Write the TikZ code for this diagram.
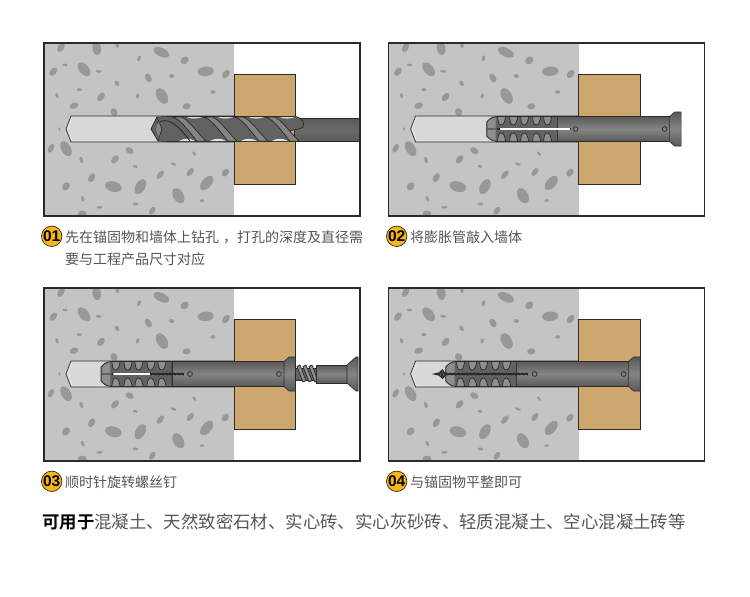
\documentclass[tikz,border=0pt]{standalone}
\usepackage{fontspec}
\setmainfont{Noto Sans CJK SC}[BoldFont={Noto Sans CJK SC Bold}]
\newfontfamily\badgefont{Liberation Sans}[BoldFont={Liberation Sans Bold}]
\definecolor{concrete}{HTML}{C4C4C4}
\definecolor{pebble}{HTML}{989898}
\definecolor{wood}{HTML}{CEA76E}
\definecolor{ink}{HTML}{2A2A2A}
\definecolor{holefill}{HTML}{D8D8D8}
\definecolor{badge}{HTML}{F8B612}
\definecolor{steelA}{HTML}{5A5A5A}
\definecolor{steelB}{HTML}{848484}
\definecolor{ribbed}{HTML}{626262}
\definecolor{ribin}{HTML}{8E8E8E}
\definecolor{txt}{HTML}{555555}
\tikzset{
  frame/.style={draw=ink,line width=1.5pt},
  steel/.style={top color=steelA,bottom color=steelA,middle color=steelB,draw=ink,line width=.6pt},
  caption/.style={inner sep=0pt,anchor=west,text=txt,font=\fontsize{14}{14}\selectfont},
  badgenode/.style={circle,fill=badge,draw=ink,line width=.7pt,minimum size=20pt,inner sep=0pt,
    font=\badgefont\bfseries\fontsize{15.5}{15.5}\selectfont,text=black}
}
\newcommand{\panelbase}{%
  \fill[white] (0,0) rectangle (316,173);
  \fill[concrete] (0,0) rectangle (190,173);
  \begin{scope}
    \clip (0,0) rectangle (190,173);
    \foreach \px/\py/\pl/\pw/\pa in {
      63/22/28/14/-60,170/25/36/20/80,232/17/12/8/80,364/37/46/20/25,297/55/16/8/-70,
      434/61/24/16/-40,75/75/14/6/0,132/88/44/22/50,40/95/26/14/-50,176/94/16/6/5,
      497/94/44/22/-5,558/102/26/14/-50,325/114/26/14/60,395/108/14/9/10,231/130/16/9/60,
      118/149/14/7/-5,51/167/14/7/70,183/171/26/14/-50,293/168/14/7/-70,366/168/46/24/60,
      519/156/14/8/-5,102/197/24/14/-20,440/199/22/14/-10,222/216/22/16/60,58/267/10/5/80,
      33/325/26/12/-60,78/326/44/22/60,269/332/24/14/30,124/360/18/8/70,225/358/26/14/-50,
      463/341/14/6/50,286/379/14/6/20,400/372/16/6/20,451/396/26/12/-50,361/404/28/12/-50,
      556/398/24/14/-50,155/413/26/14/-60,78/439/24/16/-50,220/440/46/24/15,301/440/44/22/-60,
      500/429/46/22/-50,415/467/44/24/60,128/476/16/7/70,486/482/12/6/-10,179/502/16/6/-5,
      287/492/16/7/5,337/512/24/12/-55,127/521/24/14/0}
      {\fill[pebble,shift={(\px/3-4,\py/3-3)},rotate=-\pa] (0,0) ellipse [x radius={\pl/5.4},y radius={\pw/4.6}];}
  \end{scope}
  \fill[wood,draw=ink,line width=.7pt] (190,31) rectangle (251.5,141);
  \fill[holefill] (190,73) -- (27,73) -- (22,86) -- (27,99) -- (190,99) -- cycle;
  \draw[white!92!black,line width=.6pt] (189,97.8) -- (28,97.8) -- (23.5,86) -- (28,74.2);
  \draw[ink,line width=.7pt] (190,73) -- (27,73) -- (22,86) -- (27,99) -- (190,99);
}
\newcommand{\panelframe}{\draw[frame] (0,0) rectangle (316,173);}
% sleeve: origin at left end, on the axis
\newcommand{\sleeve}{%
  \shade[steel] (71,-12.5) -- (183,-12.5) -- (183,12.5) -- (71,12.5) -- cycle;
  \shade[steel] (183,-12.5) -- (188,-17) -- (194.5,-17) -- (194.5,17) -- (188,17) -- (183,12.5) -- cycle;
  \fill[ribbed,draw=ink,line width=.7pt] (10,-12.5) .. controls (5,-12) and (2,-10) .. (0,-7) -- (0,7) .. controls (2,10) and (5,12) .. (10,12.5) -- (71,12.5) -- (71,-12.5) -- cycle;
  \fill[ribin] (1,-6.5) .. controls (3,-9.5) and (6,-11) .. (9,-11.5) -- (9,-1.2) -- (1,-1.2) -- cycle;
  \fill[ribin] (1,6.5) .. controls (3,9.5) and (6,11) .. (9,11.5) -- (9,1.2) -- (1,1.2) -- cycle;
  \foreach \rx in {15,27,38,50,61} {
    \fill[ribin,draw=ink,line width=.7pt] (\rx-4,-12) .. controls (\rx-3.6,-8) and (\rx-3.2,-4) .. (\rx-.5,-4) .. controls (\rx+2.5,-4) and (\rx+3.2,-8) .. (\rx+4,-12);
    \fill[ribin,draw=ink,line width=.7pt] (\rx-4,12) .. controls (\rx-3.6,8) and (\rx-3.2,4) .. (\rx-.5,4) .. controls (\rx+2.5,4) and (\rx+3.2,8) .. (\rx+4,12);
  }
  \draw[ink,line width=.7pt] (89,0) circle [radius=2.4] (178,0) circle [radius=2.4];
}
\newcommand{\thread}[2]{%
  \draw[ink,line width=1.1pt] (#1,0) -- (#2,0);
  \pgfmathsetmacro{\tnext}{#1+4}
  \foreach \tx in {#1,\tnext,...,#2} {\draw[ink,line width=.7pt] (\tx,-1.6) -- (\tx+1.4,1.6);}
}
\begin{document}
\begin{tikzpicture}[x=1pt,y=-1pt]
\useasboundingbox (0,0) rectangle (750,597);
\fill[white] (0,0) rectangle (750,597);

% ---- panel 1
\begin{scope}[shift={(44,43)}]
  \panelbase
  \shade[top color=steelA,bottom color=steelA,middle color=steelA!90!white,draw=ink,line width=.6pt] (250,75) -- (316,75) -- (316,98) -- (250,98) -- cycle;
  \fill[ribbed,draw=ink,line width=.7pt] (107,86) -- (113,74) -- (125,73.5) -- (252,73.5) .. controls (258,75) and (261,80) .. (259,84) .. controls (256,87) and (250,86) .. (246,88) -- (252,98.5) -- (125,98.5) -- (114,98) -- cycle;
  \foreach \hx in {0,1,2,3} {
    \fill[steelB,draw=ink,line width=.7pt] (128+\hx*31,74) .. controls (136+\hx*31,75) and (146+\hx*31,90) .. (153+\hx*31,98.2) -- (162+\hx*31,98.2) .. controls (152+\hx*31,88) and (144+\hx*31,76) .. (137+\hx*31,74) -- cycle;
    \fill[white!88!black] (143+\hx*31,74.2) .. controls (148+\hx*31,76) and (152+\hx*31,76) .. (158+\hx*31,74.2) -- cycle;
    \fill[white!88!black] (135+\hx*31,98) .. controls (140+\hx*31,95) and (146+\hx*31,95) .. (151+\hx*31,98) -- cycle;
  }
  \draw[ink,line width=.9pt] (113,80) .. controls (124,73) and (134,82) .. (146,98);
  \fill[steelB] (112,86) -- (115,77) -- (118,86) -- (115,97) -- cycle;
  \draw[ink,line width=.7pt] (113,74) -- (118,86) -- (114,98);
  \panelframe
\end{scope}

% ---- panel 2
\begin{scope}[shift={(388.6,43)}]
  \panelbase
  \begin{scope}[shift={(98,86)}]
    \sleeve
    \draw[ink,line width=2pt] (11,0) -- (84,0);
    \draw[white,line width=1.1pt] (13,0) -- (83,0);
    \fill[ink] (11.5,0) circle [radius=1.4];
  \end{scope}
  \panelframe
\end{scope}

% ---- panel 3
\begin{scope}[shift={(44,288)}]
  \panelbase
  \begin{scope}[shift={(57,86)}]
    \sleeve
    \draw[ink,line width=2pt] (11,0) -- (50,0);
    \draw[white,line width=1.1pt] (12,0) -- (49,0);
    \fill[ink] (11.5,0) circle [radius=1.4];
    \thread{49}{83}
    % screw outside the sleeve
    \fill[ribbed,draw=ink,line width=.6pt] (194.5,-6) -- (215,-6) -- (215,6.5) -- (194.5,6.5) -- cycle;
    \foreach \tx in {196,202,208} {
      \fill[ribin,draw=ink,line width=.7pt] (\tx,-7.5) -- (\tx+3,-9) -- (\tx+9,6.5) -- (\tx+6,8) -- cycle;
    }
    \shade[steel] (215,-9) -- (246,-9) -- (246,9) -- (215,9) -- cycle;
    \shade[steel] (246,-9) -- (255,-17) -- (257,-17) -- (257,17) -- (255,17) -- (246,9) -- cycle;
  \end{scope}
  \panelframe
\end{scope}

% ---- panel 4
\begin{scope}[shift={(388.6,288)}]
  \panelbase
  \begin{scope}[shift={(57,86)}]
    \sleeve
    \thread{1}{82}
    \fill[ink] (-14,0) -- (-7,-1.5) -- (-3,-5) -- (-1,-2) -- (1,-1) -- (1,1) -- (-1,3) -- (-3,5) -- (-7,1.5) -- cycle;
    \draw[steelB,line width=.5pt] (-6,-1.5) -- (-4.5,2) (-3.5,-3) -- (-1.5,2);
  \end{scope}
  \panelframe
\end{scope}

% ---- captions
\node[badgenode] (b1) at (51.7,236.3) {01};
\node[badgenode] (b2) at (396.7,236.3) {02};
\node[badgenode] (b3) at (51.7,481.3) {03};
\node[badgenode] (b4) at (396.7,481.3) {04};
\node[caption] (c1) at (65,237) {先在锚固物和墙体上钻孔\hspace{4pt}，打孔的深度及直径需};
\node[caption] (c1b) at (65,259) {要与工程产品尺寸对应};
\node[caption] (c2) at (410,237) {将膨胀管敲入墙体};
\node[caption] (c3) at (65,482) {顺时针旋转螺丝钉};
\node[caption] (c4) at (410,482) {与锚固物平整即可};
\node[inner sep=0pt,anchor=west,text=black,font=\fontsize{17.4}{17}\selectfont\bfseries] (u1) at (42,522) {可用于};
\node[inner sep=0pt,anchor=west,text=txt,font=\fontsize{17.4}{17}\selectfont] (u2) at (94,522) {混凝土、天然致密石材、实心砖、实心灰砂砖、轻质混凝土、空心混凝土砖等};
\end{tikzpicture}
\end{document}
